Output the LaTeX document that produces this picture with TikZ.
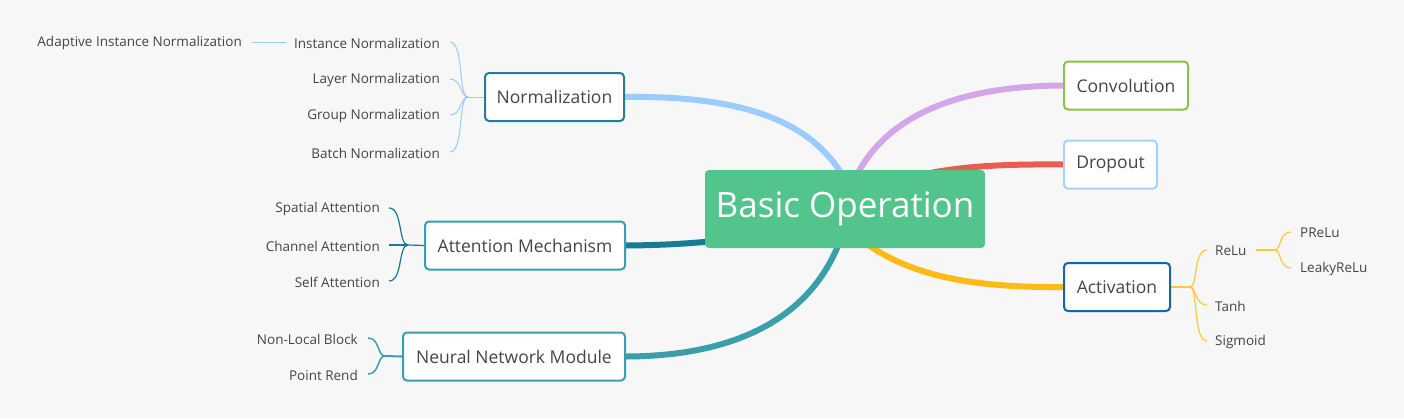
\documentclass[tikz,border=0pt]{standalone}
\usepackage{fontspec}
\setmainfont{Open Sans}
\usetikzlibrary{calc}
\definecolor{paper}{HTML}{F7F7F7}
\definecolor{ink}{HTML}{454545}
\definecolor{rootgreen}{HTML}{52C48C}
\definecolor{norblue}{HTML}{9BCBFF}
\definecolor{norline}{HTML}{227E94}
\definecolor{attdark}{HTML}{167B94}
\definecolor{tealline}{HTML}{3A9FAA}
\definecolor{convgreen}{HTML}{8BC34A}
\definecolor{convpurple}{HTML}{D4A5E8}
\definecolor{dropred}{HTML}{E85D4E}
\definecolor{dropblue}{HTML}{A6D2FF}
\definecolor{actblue}{HTML}{1565AD}
\definecolor{actyellow}{HTML}{FFBA15}
\definecolor{leafyellow}{HTML}{FFC83D}
\pgfdeclarelayer{links}
\pgfsetlayers{links,main}

\begin{document}
\begin{tikzpicture}[x=1pt,y=-1pt,
    topic/.style={draw, fill=white, rounded corners=4pt, line width=2pt, text=ink,
        font=\fontsize{17.5}{20}\selectfont, minimum height=48pt, inner sep=0pt},
    leaf/.style={text=ink, font=\fontsize{13.5}{15}\selectfont, inner sep=0pt},
    branch/.style={line width=6pt},
    brace/.style={line width=1pt}]
            % central topic and main branches
            \node[fill=rootgreen, rounded corners=4pt, text=white, minimum width=280pt,
                minimum height=78pt, font=\fontsize{35}{40}\selectfont] (root) at (845,209) {Basic Operation};
            \node[topic, draw=norline, minimum width=139pt] (nor) at (554.5,97) {Normalization};
            \node[topic, draw=tealline, minimum width=200pt] (att) at (525,245.5) {Attention Mechanism};
            \node[topic, draw=tealline, minimum width=222pt] (nnm) at (514,356.5) {Neural Network Module};
            \node[topic, draw=convgreen, minimum width=124pt] (conv) at (1126,85.5) {Convolution};
            \node[topic, draw=dropblue, minimum width=93pt] (drop) at (1110.5,164.5) {Dropout};
            \node[topic, draw=actblue, minimum width=106pt] (act) at (1117,287) {Activation};
            % leaves on the left
            \node[leaf, anchor=east] (inst) at (440,43) {Instance Normalization};
            \node[leaf, anchor=east] (lay) at (440,80) {Layer Normalization};
            \node[leaf, anchor=east] (grp) at (440,116) {Group Normalization};
            \node[leaf, anchor=east] (bat) at (440,153) {Batch Normalization};
            \node[leaf, anchor=east] (adap) at (242,43) {Adaptive Instance Normalization};
            \node[leaf, anchor=east] (spa) at (380,209) {Spatial Attention};
            \node[leaf, anchor=east] (cha) at (380,246) {Channel Attention};
            \node[leaf, anchor=east] (self) at (380,282) {Self Attention};
            \node[leaf, anchor=east] (nlb) at (358,339) {Non-Local Block};
            \node[leaf, anchor=east] (pr) at (358,375) {Point Rend};
            % leaves on the right
            \node[leaf, anchor=west] (relu) at (1215,251) {ReLu};
            \node[leaf, anchor=west] (tanh) at (1215,306) {Tanh};
            \node[leaf, anchor=west] (sig) at (1215,342) {Sigmoid};
            \node[leaf, anchor=west] (prelu) at (1300,233) {PReLu};
            \node[leaf, anchor=west] (leaky) at (1300,269) {LeakyReLu};
            \coordinate (jn) at (468,97);
            \coordinate (ja) at (408,245);
            \coordinate (jm) at (385,356);
            \coordinate (jc) at (1190,287);
            \coordinate (jr) at (1275,250);
            \begin{pgfonlayer}{links}
            \fill[paper] (0,0) rectangle (1404,418);
            \draw[branch, norblue] (nor.east) .. controls (760,95) and (820,130) .. (848,185);
            \draw[branch, convpurple] (conv.west) .. controls (950,86) and (880,120) .. (852,185);
            \draw[branch, dropred] (drop.west) .. controls (1000,164) and (950,166) .. (900,180);
            \draw[branch, actyellow] (act.west) .. controls (960,288) and (900,272) .. (855,235);
            \draw[branch, attdark] (att.east) .. controls (680,245) and (700,242) .. (730,240);
            \draw[branch, tealline] (nnm.east) .. controls (760,356) and (820,300) .. (842,235);
            % normalization
            \draw[brace, norblue] (nor.west) -- (jn);
            \draw[brace, norblue] ($(inst.east)+(10,-1)$) .. controls +(14,0) and +(-10,0) .. (jn);
            \draw[brace, norblue] ($(lay.east)+(10,-1)$) .. controls +(12,0) and +(-8,0) .. (jn);
            \draw[brace, norblue] ($(grp.east)+(10,-1)$) .. controls +(12,0) and +(-8,0) .. (jn);
            \draw[brace, norblue] ($(bat.east)+(10,-1)$) .. controls +(14,0) and +(-10,0) .. (jn);
            \draw[brace, norblue] ($(adap.east)+(10,-1)$) -- ($(inst.west)+(-8,-1)$);
            % attention
            \draw[brace, attdark, line width=1.2pt] (att.west) -- (ja);
            \draw[brace, attdark, line width=1.2pt] ($(spa.east)+(9,-1)$) .. controls +(14,0) and +(-10,0) .. (ja);
            \draw[brace, attdark, line width=1.2pt] ($(cha.east)+(9,-1)$) -- (ja);
            \draw[brace, attdark, line width=1.2pt] ($(self.east)+(9,-1)$) .. controls +(14,0) and +(-10,0) .. (ja);
            % network module
            \draw[brace, tealline, line width=2pt] (nnm.west) -- (jm);
            \draw[brace, tealline, line width=1.5pt] ($(nlb.east)+(10,-1)$) .. controls +(12,0) and +(-8,0) .. (jm);
            \draw[brace, tealline, line width=1.5pt] ($(pr.east)+(10,-1)$) .. controls +(12,0) and +(-8,0) .. (jm);
            % activation
            \draw[brace, leafyellow, line width=2pt] (act.east) -- (jc);
            \draw[brace, leafyellow, line width=1.2pt] (jc) .. controls +(8,0) and +(-14,0) .. ($(relu.west)+(-8,-1)$);
            \draw[brace, leafyellow, line width=1.2pt] (jc) .. controls +(6,0) and +(-12,0) .. ($(tanh.west)+(-8,-1)$);
            \draw[brace, leafyellow, line width=1.2pt] (jc) .. controls +(8,0) and +(-14,0) .. ($(sig.west)+(-8,-1)$);
            \draw[brace, leafyellow, line width=2pt] ($(relu.east)+(9,-1)$) -- (jr);
            \draw[brace, leafyellow, line width=1.2pt] (jr) .. controls +(6,0) and +(-12,0) .. ($(prelu.west)+(-9,-1)$);
            \draw[brace, leafyellow, line width=1.2pt] (jr) .. controls +(6,0) and +(-12,0) .. ($(leaky.west)+(-9,-1)$);
            \end{pgfonlayer}
        \end{tikzpicture}
\end{document}
